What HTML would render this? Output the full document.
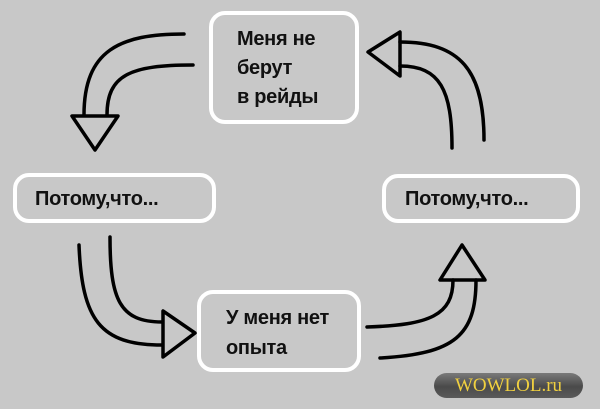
<!DOCTYPE html>
<html><head><meta charset="utf-8"><style>
body{margin:0;width:600px;height:409px;background:#c8c8c8;overflow:hidden;position:relative;font-family:"Liberation Sans","DejaVu Sans",sans-serif}
.b{position:absolute;border:4px solid #fff;border-radius:16px;box-sizing:border-box;font-weight:bold;font-size:20px;color:#111;letter-spacing:-0.3px}
svg{position:absolute;left:0;top:0}
</style></head><body>
<svg width="600" height="409" fill="none" stroke="#000" stroke-width="3.5" stroke-linecap="round" stroke-linejoin="round">
<path d="M184 34 C120 34 84 50 84 115"/>
<path d="M193 65 C130 65 107 75 107 115"/>
<path d="M72 116 L118 116 L95 150 Z"/>
<path d="M400 42 C460 42 484 70 484 140"/>
<path d="M400 66 C440 66 452 90 452 148"/>
<path d="M400 32 L400 76 L368 52 Z"/>
<path d="M79 245 C82 320 100 345 162 345"/>
<path d="M110 237 C110 300 120 322 162 322"/>
<path d="M163 311 L163 357 L195 333 Z"/>
<path d="M367 327 C430 325 453 315 453 280"/>
<path d="M380 358 C455 354 476 335 476 280"/>
<path d="M440 280 L485 280 L462 245 Z"/>
</svg>
<div class="b" style="left:209px;top:11px;width:150px;height:113px;padding:10px 0 0 24px;line-height:29px">Меня не<br>берут<br>в рейды</div>
<div class="b" style="left:13px;top:173px;width:203px;height:50px;padding:11px 0 0 18px">Потому,что...</div>
<div class="b" style="left:382px;top:174px;width:198px;height:49px;padding:10px 0 0 19px">Потому,что...</div>
<div class="b" style="left:197px;top:290px;width:164px;height:82px;padding:9px 0 0 25px;line-height:30px">У меня нет<br>опыта</div>
<div style="position:absolute;left:434px;top:373px;width:149px;height:25px;border-radius:13px;background:linear-gradient(#7a7a7a,#4a4a4a 55%,#5a5a5a);text-align:center;font-family:'Liberation Serif',serif;font-size:19px;line-height:25px;color:#f0d040">WOWLOL.ru</div>
</body></html>
